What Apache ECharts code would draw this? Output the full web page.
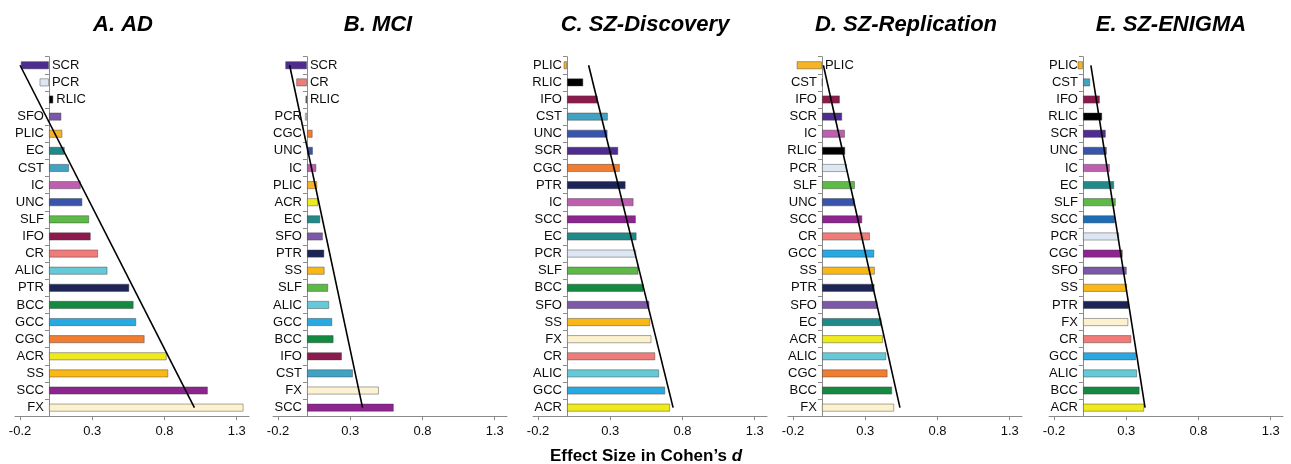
<!DOCTYPE html>
<html>
<head>
<meta charset="utf-8">
<script src="https://cdn.jsdelivr.net/npm/echarts@6/dist/echarts.min.js"></script>
<style>
  html, body { margin: 0; padding: 0; background: #fff; }
  #chart { width: 1291px; height: 464px; }
</style>
</head>
<body>
<div id="chart"></div>
<script>
  // tick labels shared by every panel
  const xTicks = [-0.2, 0.3, 0.8, 1.3];

  const titles = ['A. AD', 'B. MCI', 'C. SZ-Discovery', 'D. SZ-Replication', 'E. SZ-ENIGMA'];

  const catsA = ['SCR','PCR','RLIC','SFO','PLIC','EC','CST','IC','UNC','SLF','IFO','CR','ALIC','PTR','BCC','GCC','CGC','ACR','SS','SCC','FX'];
  const valsA = [-0.195, -0.065, 0.03, 0.086, 0.093, 0.109, 0.139, 0.22, 0.231, 0.278, 0.289, 0.34, 0.405, 0.556, 0.586, 0.604, 0.662, 0.815, 0.826, 1.10, 1.347];
  const lineA = [-0.2, 1.007];
  const rightA = ['SCR', 'PCR', 'RLIC'];

  const catsB = ['SCR','CR','RLIC','PCR','CGC','UNC','IC','PLIC','ACR','EC','SFO','PTR','SS','SLF','ALIC','GCC','BCC','IFO','CST','FX','SCC'];
  const valsB = [-0.15, -0.074, -0.01, -0.014, 0.039, 0.041, 0.065, 0.071, 0.076, 0.092, 0.11, 0.12, 0.122, 0.147, 0.154, 0.175, 0.184, 0.242, 0.318, 0.498, 0.601];
  const lineB = [-0.12, 0.385];
  const rightB = ['SCR', 'CR', 'RLIC'];

  const catsC = ['PLIC','RLIC','IFO','CST','UNC','SCR','CGC','PTR','IC','SCC','EC','PCR','SLF','BCC','SFO','SS','FX','CR','ALIC','GCC','ACR'];
  const valsC = [-0.023, 0.113, 0.212, 0.283, 0.281, 0.355, 0.366, 0.406, 0.461, 0.477, 0.482, 0.479, 0.495, 0.53, 0.571, 0.576, 0.585, 0.611, 0.638, 0.68, 0.714];
  const lineC = [0.15, 0.735];
  const rightC = [];

  const catsD = ['PLIC','CST','IFO','SCR','IC','RLIC','PCR','SLF','UNC','SCC','CR','GCC','SS','PTR','SFO','EC','ACR','ALIC','CGC','BCC','FX'];
  const valsD = [-0.175, 0.003, 0.124, 0.14, 0.159, 0.161, 0.173, 0.228, 0.226, 0.279, 0.332, 0.362, 0.366, 0.364, 0.385, 0.412, 0.422, 0.445, 0.454, 0.486, 0.5];
  const lineD = [0.01, 0.54];
  const rightD = ['PLIC'];

  const catsE = ['PLIC','CST','IFO','RLIC','SCR','UNC','IC','EC','SLF','SCC','PCR','CGC','SFO','SS','PTR','FX','CR','GCC','ALIC','BCC','ACR'];
  const valsE = [-0.037, 0.05, 0.117, 0.133, 0.158, 0.165, 0.186, 0.216, 0.227, 0.222, 0.25, 0.275, 0.303, 0.305, 0.319, 0.314, 0.335, 0.367, 0.374, 0.392, 0.424];
  const lineE = [0.055, 0.43];
  const rightE = [];

  // region colours (same in every panel, except E swaps SCC/CGC hues)
  const colors = {
    SCR: '#4f2d90', PCR: '#dde7f3', RLIC: '#000000', SFO: '#7b58a8', PLIC: '#f7b326',
    EC: '#1f8a89', CST: '#41a2c2', IC: '#bd5fae', UNC: '#3954ab', SLF: '#5dba47',
    IFO: '#8c1a4c', CR: '#f07c79', ALIC: '#66c9d7', PTR: '#1d2557', BCC: '#138a40',
    GCC: '#29a9e1', CGC: '#ef7d32', ACR: '#efea1d', SS: '#fab817', SCC: '#8d2490', FX: '#fdf2cf'
  };
  const colorsE = Object.assign({}, colors, { SCC: '#1c6db6', CGC: '#8d2490' });

  const panels = [
    { cats: catsA, vals: valsA, line: lineA, right: rightA, left: 15, cx: 118, pal: colors },
    { cats: catsB, vals: valsB, line: lineB, right: rightB, left: 273, cx: 373, pal: colors },
    { cats: catsC, vals: valsC, line: lineC, right: rightC, left: 533, cx: 640, pal: colors },
    { cats: catsD, vals: valsD, line: lineD, right: rightD, left: 788, cx: 901, pal: colors },
    { cats: catsE, vals: valsE, line: lineE, right: rightE, left: 1049, cx: 1166, pal: colorsE }
  ];

  const xMin = -0.235, xMax = 1.385, gridW = 234;
  const zeroOffset = -(0 - xMin) / (xMax - xMin) * gridW; // moves the category axis to x = 0

  const fontFamily = 'Arial, "Liberation Sans", sans-serif';
  const txt = '#0d0d0d';
  const grid = [], xAxis = [], yAxis = [], series = [], title = [];

  panels.forEach((p, i) => {
    title.push({
      text: titles[i], left: p.cx, top: 9, textAlign: 'center',
      textStyle: { fontSize: 22, fontWeight: 'bold', fontStyle: 'italic', color: '#000', fontFamily }
    });
    grid.push({ left: p.left, top: 56.7, width: gridW, height: 359.5, containLabel: false, outerBoundsMode: 'none' });
    xAxis.push({
      type: 'value', gridIndex: i, min: xMin, max: xMax,
      splitLine: { show: false },
      axisLine: { show: true, lineStyle: { color: '#8a8a8a', width: 1 } },
      axisTick: { show: true, length: 4, customValues: xTicks, lineStyle: { color: '#8a8a8a' } },
      axisLabel: { customValues: xTicks, margin: 9, fontSize: 13, color: txt, fontFamily }
    });
    yAxis.push({
      type: 'category', gridIndex: i, data: p.cats, inverse: true, offset: zeroOffset,
      axisLine: { show: true, onZero: false, lineStyle: { color: '#8a8a8a', width: 1 } },
      axisTick: { show: true, length: 4, lineStyle: { color: '#8a8a8a' } },
      axisLabel: {
        fontSize: 13, color: txt, margin: 5, fontFamily, interval: 0,
        formatter: v => (p.right.includes(v) ? '' : v)
      }
    });
    series.push({
      type: 'bar', xAxisIndex: i, yAxisIndex: i, barWidth: 8,
      data: p.vals.map((v, k) => ({
        value: v,
        itemStyle: { color: p.pal[p.cats[k]], borderColor: 'rgba(60,60,60,0.55)', borderWidth: 0.8 }
      }))
    });
    series.push({
      type: 'line', xAxisIndex: i, yAxisIndex: i, symbol: 'none', z: 5,
      lineStyle: { color: '#000', width: 1.6 },
      data: [[p.line[0], p.cats[0]], [p.line[1], p.cats[p.cats.length - 1]]]
    });
    if (p.right.length) {
      series.push({
        type: 'scatter', xAxisIndex: i, yAxisIndex: i, symbolSize: 0, z: 6,
        itemStyle: { opacity: 1 },
        label: {
          show: true, position: 'right', distance: 3, fontSize: 13, color: txt, opacity: 1, fontFamily,
          formatter: d => d.value[1]
        },
        data: p.right.map(c => [Math.max(0, p.vals[p.cats.indexOf(c)]), c])
      });
    }
  });

  title.push({
    text: 'Effect Size in Cohen\u2019s {d|d}', left: 641, top: 443, textAlign: 'center',
    textStyle: {
      fontSize: 17, fontWeight: 'bold', color: '#000', fontFamily,
      rich: { d: { fontSize: 17, fontWeight: 'bold', fontStyle: 'italic', color: '#000', fontFamily } }
    }
  });

  const chart = echarts.init(document.getElementById('chart'));
  chart.setOption({ animation: false, title, grid, xAxis, yAxis, series });
</script>
</body>
</html>
